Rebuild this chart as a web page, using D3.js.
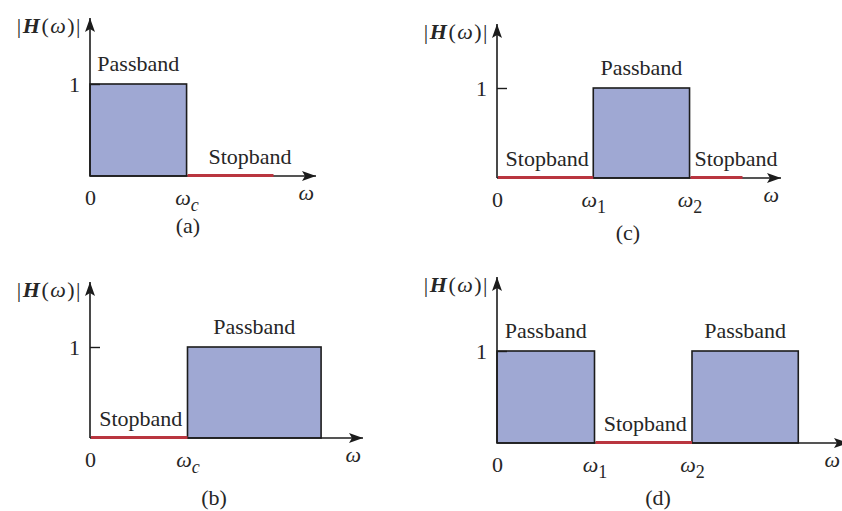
<!DOCTYPE html>
<html>
<head>
<meta charset="utf-8">
<script src="https://cdn.jsdelivr.net/npm/d3@7"></script>
<style>
  html, body { margin: 0; padding: 0; background: #fff; }
  svg text { font-family: "Liberation Serif", "DejaVu Serif", serif; fill: #262626; }
</style>
</head>
<body>
<div id="chart"></div>
<script>
// one entry per panel: (a) lowpass, (b) highpass, (c) bandpass, (d) bandstop
var panelNames = ["(a)", "(b)", "(c)", "(d)"];
var edgeValues = [[0, 1], [0, 1], [0, 1, 2], [0, 1, 2]];
var edgeLabels = [["0", "ωc"], ["0", "ωc"], ["0", "ω1", "ω2"], ["0", "ω1", "ω2"]];
var bandFrom = [[0, 1], [0, 1], [0, 1, 2], [0, 1, 2]];
var bandTo = [[1, 1.9], [1, 2.37], [1, 2, 2.55], [1, 2, 3.09]];
var bandGain = [[1, 0], [0, 1], [0, 1, 0], [1, 0, 1]];
var axisMax = [2.34, 2.8, 2.95, 3.6];
var gainTicks = [1];

// where each panel sits on the page
var layout = [
    {ox: 90, oy: 176, y1: 84, top: 18, tip: 316, cap: [188, 233]},
    {ox: 90, oy: 438, y1: 347, top: 282, tip: 363, cap: [214, 505]},
    {ox: 497, oy: 178, y1: 88, top: 24, tip: 781, cap: [628, 240]},
    {ox: 497, oy: 443, y1: 351, top: 277, tip: 848, cap: [658, 505]}
];

var fillPass = "#9fa8d3";
var stopRed = "#b9353f";
var ink = "#1c1c1c";
var fontSize = 22;

var w = 842, h = 511;

var svg = d3.select("#chart")
    .append("svg")
    .attr("width", w)
    .attr("height", h);

svg.append("defs").append("marker")
    .attr("id", "arrow")
    .attr("markerUnits", "userSpaceOnUse")
    .attr("viewBox", "0 -6 14 12")
    .attr("refX", 14)
    .attr("refY", 0)
    .attr("markerWidth", 14)
    .attr("markerHeight", 12)
    .attr("orient", "auto")
    .append("path")
    .attr("d", "M0,-5 L14,0 L0,5 L3,0 z")
    .attr("fill", ink);

// writes "ωc" / "ω1" as italic omega with a subscript
function omegaLabel(sel, label) {
    sel.text(null);
    if (label.charAt(0) != "ω") {
        sel.text(label);
        return;
    }
    sel.append("tspan").attr("font-style", "italic").text("ω");
    var sub = label.slice(1);
    if (sub.length) {
        sel.append("tspan")
            .attr("font-size", (fontSize - 4) + "px")
            .attr("font-style", sub == "c" ? "italic" : "normal")
            .attr("dy", 6)
            .text(sub);
    }
}

panelNames.forEach(function(name, p) {
    var L = layout[p];
    var x = d3.scaleLinear().domain([0, axisMax[p]]).range([L.ox, L.tip]);
    var y = d3.scaleLinear().domain([0, 1]).range([L.oy, L.y1]);

    var g = svg.append("g");

    var bands = bandFrom[p].map(function(f, i) {
        return {from: f, to: bandTo[p][i], gain: bandGain[p][i], last: i == bandFrom[p].length - 1};
    });

    // passbands
    g.selectAll("rect.pass")
        .data(bands.filter(function(d) { return d.gain == 1; }))
        .enter()
        .append("rect")
        .attr("class", "pass")
        .attr("x", function(d) { return x(d.from); })
        .attr("y", function(d) { return y(d.gain); })
        .attr("width", function(d) { return x(d.to) - x(d.from); })
        .attr("height", function(d) { return y(0) - y(d.gain); })
        .attr("fill", fillPass)
        .attr("stroke", ink)
        .attr("stroke-width", 1.6);

    // y axis with the "1" tick
    var yAxis = g.append("g")
        .attr("transform", "translate(" + L.ox + ",0)")
        .call(d3.axisLeft(y).tickValues(gainTicks).tickFormat(d3.format("d"))
            .tickSize(-10).tickPadding(10));
    yAxis.select(".domain").remove();
    yAxis.selectAll(".tick line").attr("stroke", ink).attr("stroke-width", 1.4);
    yAxis.selectAll(".tick text")
        .attr("font-size", fontSize + "px")
        .attr("fill", "#262626");
    yAxis.attr("font-family", null).attr("font-size", null);

    // x axis with band edges
    var xAxis = g.append("g")
        .attr("transform", "translate(0," + L.oy + ")")
        .call(d3.axisBottom(x).tickValues(edgeValues[p]).tickSize(0).tickPadding(13));
    xAxis.select(".domain").remove();
    xAxis.attr("font-family", null).attr("font-size", null);
    xAxis.selectAll(".tick text")
        .attr("font-size", fontSize + "px")
        .attr("fill", "#262626")
        .each(function(d, i) {
            omegaLabel(d3.select(this), edgeLabels[p][i]);
        });

    // arrows
    g.append("line")
        .attr("x1", x(0)).attr("y1", y(0))
        .attr("x2", L.tip).attr("y2", y(0))
        .attr("stroke", ink).attr("stroke-width", 1.6)
        .attr("marker-end", "url(#arrow)");
    g.append("line")
        .attr("x1", x(0)).attr("y1", y(0))
        .attr("x2", x(0)).attr("y2", L.top)
        .attr("stroke", ink).attr("stroke-width", 1.6)
        .attr("marker-end", "url(#arrow)");

    // stopbands drawn on the axis
    g.selectAll("line.stop")
        .data(bands.filter(function(d) { return d.gain == 0; }))
        .enter()
        .append("line")
        .attr("class", "stop")
        .attr("x1", function(d) { return x(d.from) + 1; })
        .attr("x2", function(d) { return x(d.to); })
        .attr("y1", y(0) - 0.5)
        .attr("y2", y(0) - 0.5)
        .attr("stroke", stopRed)
        .attr("stroke-width", 3);

    // band names
    g.selectAll("text.band")
        .data(bands)
        .enter()
        .append("text")
        .attr("class", "band")
        .attr("x", function(d) {
            var c = (x(d.from) + x(d.to)) / 2;
            return d.gain == 0 ? c + (d.last ? 20 : 2) : c;
        })
        .attr("y", function(d) { return d.gain == 1 ? y(1) - 13 : y(0) - 12; })
        .attr("text-anchor", "middle")
        .attr("font-size", fontSize + "px")
        .text(function(d) { return d.gain == 1 ? "Passband" : "Stopband"; });

    // omega at the end of the axis (kept inside the page)
    g.append("text")
        .attr("x", Math.min(L.tip - 2, w - 2))
        .attr("y", y(0) + 24)
        .attr("text-anchor", "end")
        .attr("font-size", fontSize + "px")
        .attr("font-style", "italic")
        .text("ω");

    // |H(ω)| at the top of the y axis
    var hl = g.append("text")
        .attr("x", L.ox - 8)
        .attr("y", L.top + 15)
        .attr("text-anchor", "end")
        .attr("font-size", fontSize + "px")
        .attr("letter-spacing", "1.5px");
    hl.append("tspan").text("|");
    hl.append("tspan").attr("font-style", "italic").attr("font-weight", "bold").text("H");
    hl.append("tspan").text("(");
    hl.append("tspan").attr("font-style", "italic").text("ω");
    hl.append("tspan").text(")|");

    // panel caption
    g.append("text")
        .attr("x", L.cap[0])
        .attr("y", L.cap[1])
        .attr("text-anchor", "middle")
        .attr("font-size", fontSize + "px")
        .text(name);
});
</script>
</body>
</html>
